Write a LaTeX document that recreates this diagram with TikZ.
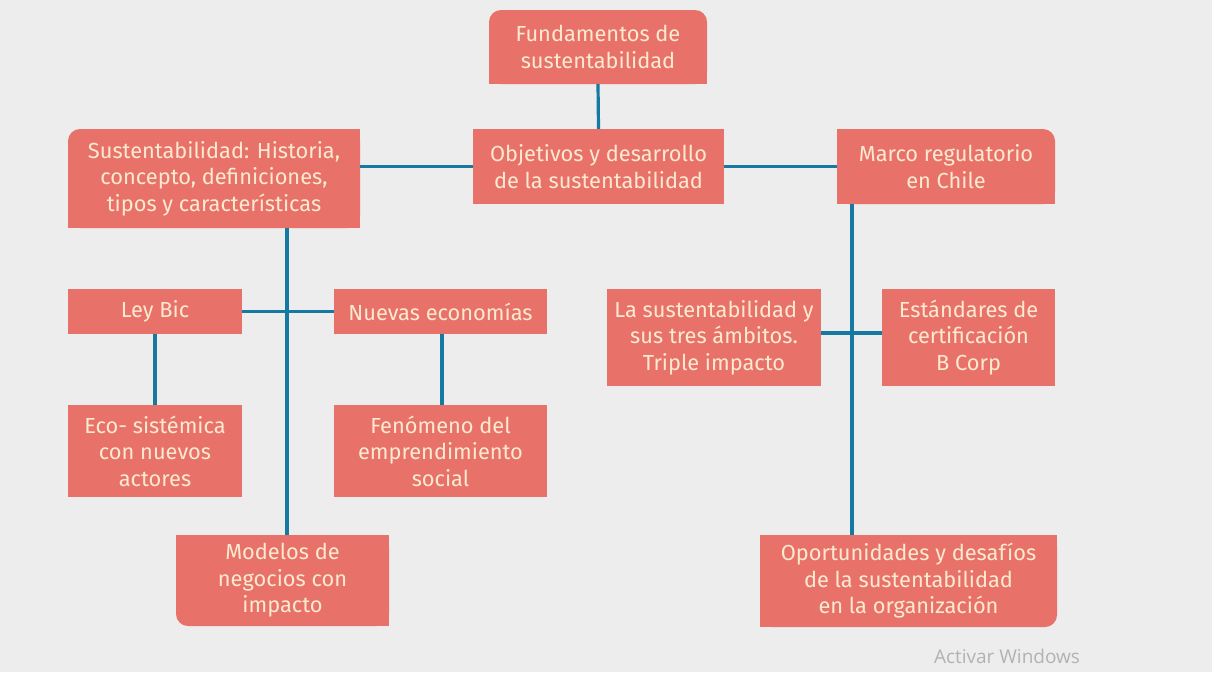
\documentclass[tikz,border=0pt]{standalone}
\usepackage{fontspec}
\setmainfont{Fira Sans}
\newfontfamily\winfont{Open Sans}
\definecolor{boxc}{RGB}{232,114,106}
\definecolor{txtc}{RGB}{252,234,208}
\definecolor{linec}{RGB}{22,121,161}
\definecolor{paper}{RGB}{237,237,237}
\pgfdeclarelayer{bg}
\pgfsetlayers{bg,main}
\tikzset{
  box/.style={fill=boxc, text=txtc, inner sep=0pt, align=center,
    font=\fontsize{21.8}{26.5}\selectfont},
  rbox/.style={box, rounded corners=12pt},
  conn/.style={draw=linec, line width=3.2pt},
  patch/.style={fill=boxc}
}
\begin{document}
\begin{tikzpicture}[x=1pt,y=-1pt]
\begin{pgfonlayer}{bg}
\fill[paper] (0,0) rectangle (1212,672);
\end{pgfonlayer}
\useasboundingbox (0,0) rectangle (1212,672);

\node[rbox, minimum width=218pt, minimum height=74pt] (fund) at (598,47) {Fundamentos de\\sustentabilidad};
\node[box, minimum width=251pt, minimum height=75pt] (obj) at (598.5,166.5) {Objetivos y desarrollo\\de la sustentabilidad};
\node[rbox, minimum width=292pt, minimum height=99pt] (sust) at (214,178.5) {Sustentabilidad: Historia,\\concepto, definiciones,\\tipos y características};
\node[rbox, minimum width=218pt, minimum height=75pt] (marco) at (946,166.5) {Marco regulatorio\\en Chile};
\node[box, minimum width=174pt, minimum height=45pt] (ley) at (155,311.5) {Ley Bic};
\node[box, minimum width=213pt, minimum height=45pt] (nuevas) at (440.5,311.5) {Nuevas economías};
\node[box, minimum width=214pt, minimum height=97pt] (lasust) at (714,337.5) {La sustentabilidad y\\sus tres ámbitos.\\Triple impacto};
\node[box, minimum width=173pt, minimum height=97pt] (estand) at (968.5,337.5) {Estándares de\\certificación\\B Corp};
\node[box, minimum width=174pt, minimum height=92pt] (eco) at (155,451) {Eco- sistémica\\con nuevos\\actores};
\node[box, minimum width=213pt, minimum height=92pt] (fen) at (440.5,451) {Fenómeno del\\emprendimiento\\social};
\node[rbox, minimum width=213pt, minimum height=91pt] (mod) at (282.5,580.5) {Modelos de\\negocios con\\impacto};
\node[rbox, minimum width=297pt, minimum height=92pt] (oport) at (908.5,581) {Oportunidades y desafíos\\de la sustentabilidad\\en la organización};

\begin{pgfonlayer}{bg}
% Fundamentos: top corners rounded -> square bottom
\fill[patch] (fund.west) rectangle (fund.south east);
% Sustentabilidad: only top-left rounded
\fill[patch] (sust.west) rectangle (sust.south east);
\fill[patch] (sust.south) rectangle (sust.north east);
% Marco: only top-right rounded
\fill[patch] (marco.west) rectangle (marco.south east);
\fill[patch] (marco.south west) rectangle (marco.north);
% Modelos: only bottom-left rounded
\fill[patch] (mod.north west) rectangle (mod.east);
\fill[patch] (mod.north) rectangle (mod.south east);
% Oportunidades: only bottom-right rounded
\fill[patch] (oport.north west) rectangle (oport.east);
\fill[patch] (oport.north west) rectangle (oport.south);
\end{pgfonlayer}

\coordinate (mx) at (852,204);
\draw[conn] (fund.south) -- (obj.north);
\draw[conn] (obj.west) -- (obj.west -| sust.east);
\draw[conn] (obj.east) -- (marco.west);
\draw[conn] ([xshift=4.5pt]mod.north |- sust.south) -- ([xshift=4.5pt]mod.north);
\draw[conn] (ley.east) -- (nuevas.west);
\draw[conn] (ley.south) -- (eco.north);
\draw[conn] ([xshift=1.5pt]nuevas.south) -- ([xshift=1.5pt]fen.north);
\draw[conn] (mx) -- (mx |- oport.north);
\draw[conn] ([yshift=4.5pt]lasust.east) -- ([yshift=4.5pt]estand.west);

\node[text=black!30, font=\winfont\fontsize{19}{22}\selectfont, inner sep=0pt] (win) at (1007,656) {Activar Windows};
\end{tikzpicture}
\end{document}
